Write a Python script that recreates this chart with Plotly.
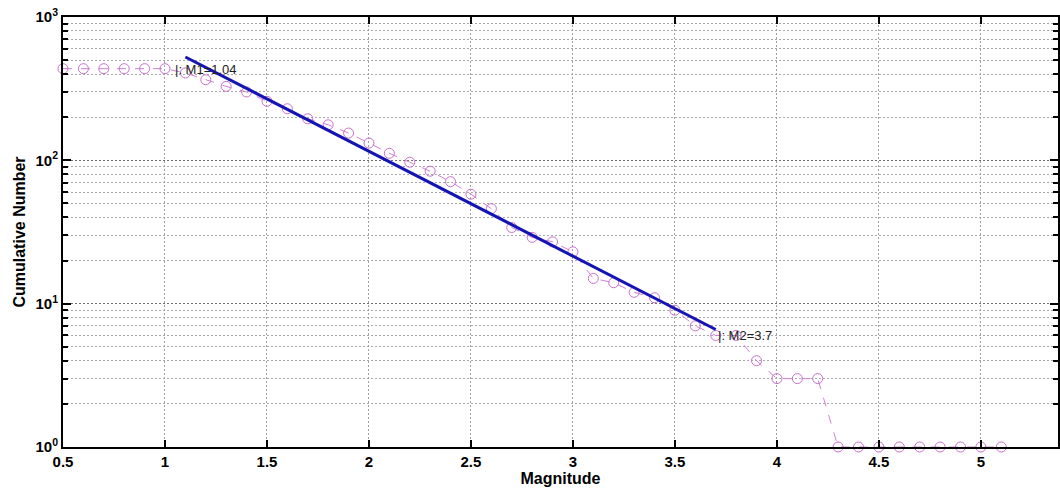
import math
import plotly.graph_objects as go

# Data
magnitude = [0.5, 0.6, 0.7, 0.8, 0.9, 1.0, 1.1, 1.2, 1.3, 1.4, 1.5, 1.6, 1.7, 1.8, 1.9,
             2.0, 2.1, 2.2, 2.3, 2.4, 2.5, 2.6, 2.7, 2.8, 2.9, 3.0, 3.1, 3.2, 3.3, 3.4,
             3.5, 3.6, 3.7, 3.8, 3.9, 4.0, 4.1, 4.2, 4.3, 4.4, 4.5, 4.6, 4.7, 4.8, 4.9,
             5.0, 5.1]
cumulative = [436, 436, 436, 436, 436, 436, 407, 365, 328, 300, 258, 229, 195, 177, 155,
              132, 112, 97, 84, 71, 58, 46, 34, 29, 27, 23, 15, 14, 12, 11,
              9, 7, 6, 6, 4, 3, 3, 3, 1, 1, 1, 1, 1, 1, 1,
              1, 1]

fit_x = [1.1, 3.7]
fit_y = [526, 6.6]

label_x = [1.04, 3.7]
label_y = [430, 6]
label_text = ["|: M1=1.04", "|: M2=3.7"]

x_ticks = [0.5, 1, 1.5, 2, 2.5, 3, 3.5, 4, 4.5, 5]
x_ticktext = ["0.5", "1", "1.5", "2", "2.5", "3", "3.5", "4", "4.5", "5"]
y_ticks = [1, 10, 100, 1000]
y_ticktext = ["10<sup>0</sup>", "10<sup>1</sup>", "10<sup>2</sup>", "10<sup>3</sup>"]
y_minor = [m * 10 ** e for e in range(0, 3) for m in range(2, 10)]

FONT = "Arial, Liberation Sans, sans-serif"

fig = go.Figure()
fig.add_trace(go.Scatter(
    x=magnitude, y=cumulative, mode="lines+markers",
    line=dict(color="#d27fd6", width=1, dash="dash"),
    marker=dict(symbol="circle-open", size=10, color="#c870cc", line=dict(width=1)),
    cliponaxis=False,
    showlegend=False, hoverinfo="skip",
))
fig.add_trace(go.Scatter(
    x=fit_x, y=fit_y, mode="lines",
    line=dict(color="#1414b4", width=3),
    showlegend=False, hoverinfo="skip",
))

for lx, ly, lt in zip(label_x, label_y, label_text):
    fig.add_annotation(x=lx, y=math.log10(ly), xref="x", yref="y", text=lt,
                       showarrow=False, xanchor="left", yanchor="middle",
                       font=dict(family=FONT, size=13, color="#222222"))

fig.update_layout(
    width=1060, height=491,
    margin=dict(l=63, r=0, t=17, b=44),
    paper_bgcolor="white", plot_bgcolor="white",
    font=dict(family=FONT, color="black"),
    xaxis=dict(
        range=[0.5, 5.378], tickmode="array", tickvals=x_ticks, ticktext=x_ticktext,
        ticks="inside", ticklen=7, tickwidth=2, tickcolor="black",
        showline=True, linecolor="black", linewidth=2, mirror="allticks",
        showgrid=True, gridcolor="#a0a0a0", gridwidth=1, griddash="2px,2px",
        zeroline=False,
        tickfont=dict(family=FONT, size=15, color="black", weight="bold"),
        title=dict(text="Magnitude", font=dict(family=FONT, size=16, color="black", weight="bold"),
                   standoff=0),
    ),
    yaxis=dict(
        type="log", range=[0, 3], tickmode="array", tickvals=y_ticks, ticktext=y_ticktext,
        ticks="inside", ticklen=8, tickwidth=2, tickcolor="black",
        showline=True, linecolor="black", linewidth=2, mirror="allticks",
        showgrid=True, gridcolor="#707070", gridwidth=1, griddash="2px,2px",
        zeroline=False,
        tickfont=dict(family=FONT, size=15, color="black", weight="bold"),
        minor=dict(tickmode="array", tickvals=y_minor, ticks="inside", ticklen=5,
                   tickwidth=2, tickcolor="black", showgrid=True, gridcolor="#a8a8a8",
                   gridwidth=1, griddash="2px,2px"),
        title=dict(text="Cumulative Number",
                   font=dict(family=FONT, size=16, color="black", weight="bold"),
                   standoff=6),
    ),
)

fig.write_html("out.html")
